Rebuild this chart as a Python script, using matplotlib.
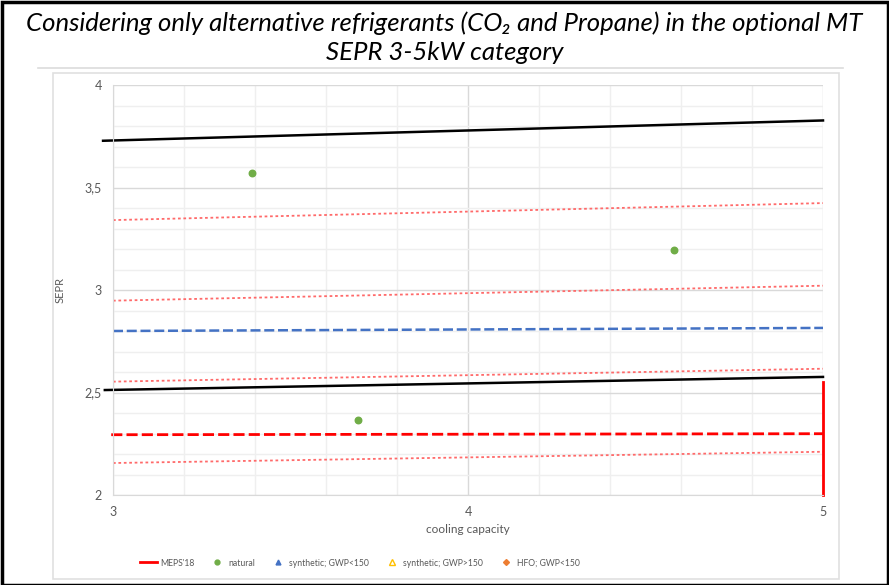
import matplotlib.pyplot as plt
import matplotlib as mpl
from matplotlib.lines import Line2D
from matplotlib.patches import Rectangle
import numpy as np

plt.rcParams['font.family'] = ['Lato', 'DejaVu Sans']

# natural refrigerant points
nat_x = [3.391, 3.689, 4.579]
nat_y = [3.569, 2.367, 3.197]

# reference lines (start, end)
black_hi_x = [2.972, 5.0]
black_hi_y = [3.728, 3.827]
black_lo_x = [2.977, 5.0]
black_lo_y = [2.512, 2.576]
blue_x = [3.0, 5.0]
blue_y = [2.800, 2.815]
meps_x = [2.995, 5.0]
meps_y = [2.294, 2.299]
dot_x = [3.0, 5.0]
dot_lines = [[3.341, 3.424], [2.948, 3.021], [2.553, 2.616], [2.156, 2.211]]
vert_x = [5.0, 5.0]
vert_y = [2.0, 2.550]

xticks = [3, 4, 5]
yticks = [2, 2.5, 3, 3.5, 4]
ytick_labels = ['2', '2,5', '3', '3,5', '4']

W, H = 889, 585
fig = plt.figure(figsize=(W / 100, H / 100), dpi=100)

# outer frame and chart box
fig.add_artist(Rectangle((1.5 / W, 0), (W - 3) / W, (H - 1.5) / H, transform=fig.transFigure,
                         fill=False, edgecolor='black', linewidth=2.5))
fig.add_artist(Line2D([38 / W, 843 / W], [1 - 68 / H, 1 - 68 / H], transform=fig.transFigure,
                      color='#dcdcdc', linewidth=1.2))
fig.add_artist(Rectangle((53 / W, 1 - 579 / H), (839 - 53) / W, (579 - 73) / H, transform=fig.transFigure,
                         fill=False, edgecolor='#e0e0e0', linewidth=1.2))

fig.text(0.5, 1 - 23 / H, 'Considering only alternative refrigerants (CO₂ and Propane) in the optional MT',
         ha='center', va='center', fontsize=18.5, style='italic', color='black')
fig.text(0.5, 1 - 53 / H, 'SEPR 3-5kW category',
         ha='center', va='center', fontsize=18.5, style='italic', color='black')

ax = fig.add_axes([113 / W, 90 / H, 710 / W, 410 / H])

ax.set_xlim(3, 5)
ax.set_ylim(2, 4)
ax.set_xticks(xticks)
ax.set_yticks(yticks)
ax.set_yticklabels(ytick_labels)
ax.set_xticks(np.arange(3, 5.01, 0.2), minor=True)
ax.set_yticks(np.arange(2, 4.01, 0.1), minor=True)
ax.grid(which='major', color='#d9d9d9', linewidth=1.0)
ax.grid(which='minor', color='#efefef', linewidth=1.0)
ax.set_axisbelow(True)
ax.tick_params(which='both', length=0, labelsize=9, colors='#595959', pad=8)
for s in ax.spines.values():
    s.set_visible(False)
ax.spines['left'].set_visible(True)
ax.spines['left'].set_color('#d9d9d9')
ax.spines['bottom'].set_visible(True)
ax.spines['bottom'].set_color('#d9d9d9')

ax.set_xlabel('cooling capacity', fontsize=8.5, color='#595959', labelpad=4)
ax.set_ylabel('SEPR', fontsize=8, color='#595959', labelpad=14)

for yy in dot_lines:
    ax.plot(dot_x, yy, color='#ff6a6a', linestyle=(0, (1.5, 1.5)), linewidth=1.3)
ax.plot(black_hi_x, black_hi_y, color='black', linewidth=1.8, clip_on=False)
ax.plot(black_lo_x, black_lo_y, color='black', linewidth=1.8, clip_on=False)
ax.plot(blue_x, blue_y, color='#4472c4', linestyle=(0, (4, 1.5)), linewidth=1.8)
ax.plot(meps_x, meps_y, color='#ff0000', linestyle=(0, (4, 1.5)), linewidth=2.0, clip_on=False)
ax.plot(vert_x, vert_y, color='#ff0000', linewidth=2.0, clip_on=False)
ax.scatter(nat_x, nat_y, s=22, color='#70ad47', zorder=5)

handles = [
    Line2D([], [], color='#ff0000', linewidth=2.0),
    Line2D([], [], marker='o', linestyle='none', color='#70ad47', markersize=3.5),
    Line2D([], [], marker='^', linestyle='none', color='#4472c4', markersize=3.5),
    Line2D([], [], marker='^', linestyle='none', markerfacecolor='none', markeredgecolor='#ffc000', markersize=4.5),
    Line2D([], [], marker='D', linestyle='none', color='#ed7d31', markersize=3),
]
labels = ["MEPS'18", 'natural', 'synthetic; GWP<150', 'synthetic; GWP>150', 'HFO; GWP<150']
fig.legend(handles, labels, loc='center', bbox_to_anchor=(360 / W, 1 - 563 / H), ncol=5,
           frameon=False, fontsize=6.2, labelcolor='#595959', handlelength=1.95,
           columnspacing=1.7, handletextpad=0.3)

fig.savefig('out.png', dpi=100)
